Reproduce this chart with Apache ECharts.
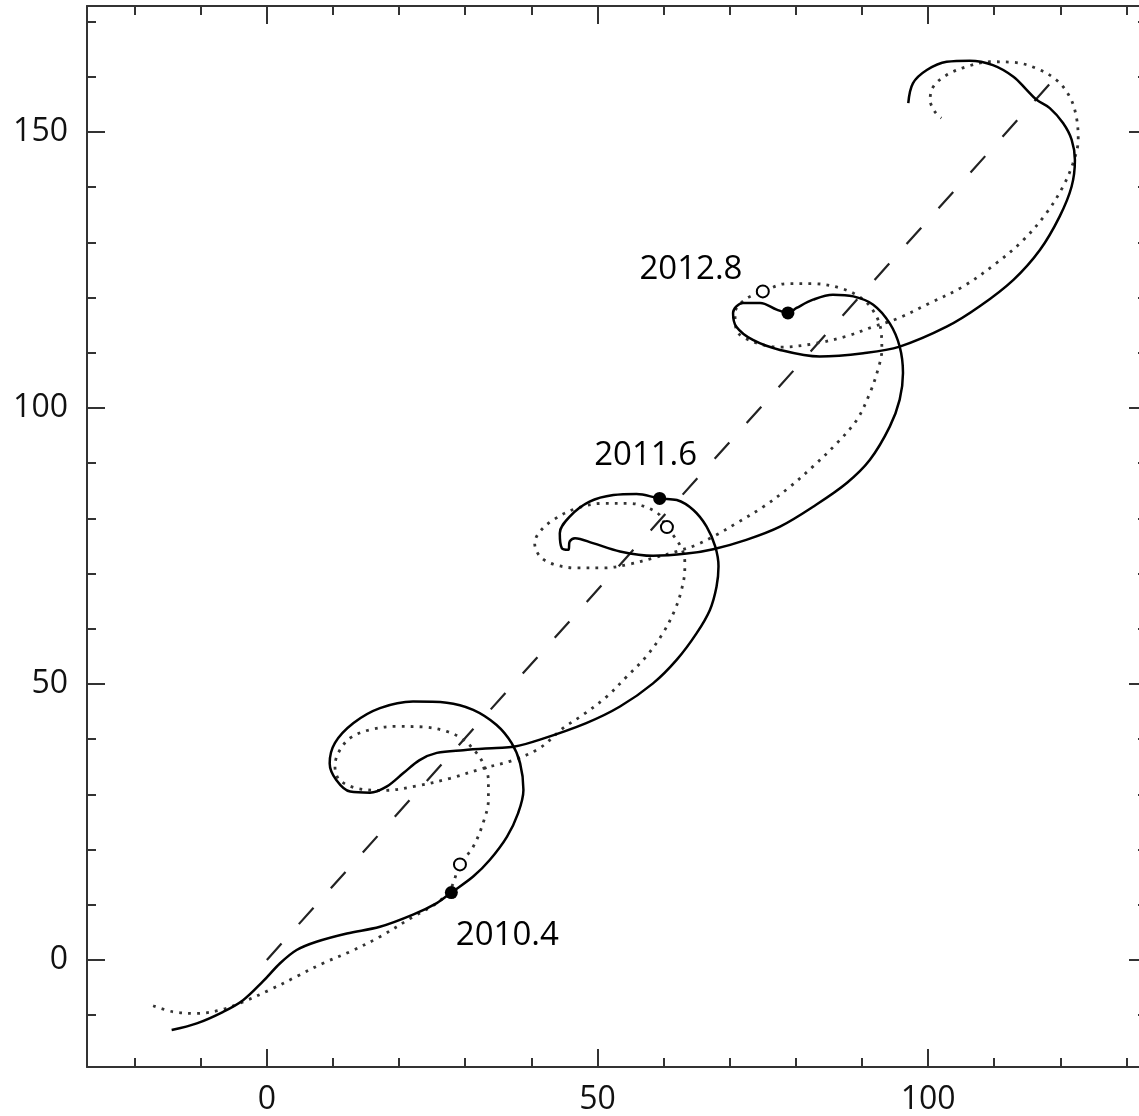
<!DOCTYPE html>
<html>
<head>
<meta charset="utf-8">
<script src="https://cdn.jsdelivr.net/npm/echarts@6/dist/echarts.min.js"></script>
<style>
html, body { margin: 0; padding: 0; background: #fff; }
#main { width: 1139px; height: 1116px; }
</style>
</head>
<body>
<div id="main"></div>
<script>
// 轴范围和刻度
var xMin = -27.2, xMax = 133.1;
var yMin = -19.4, yMax = 172.8;
var xMajor = [0, 50, 100];
var xMinor = [-20, -10, 0, 10, 20, 30, 40, 50, 60, 70, 80, 90, 100, 110, 120, 130];
var yMajor = [0, 50, 100, 150];
var yMinor = [-10, 0, 10, 20, 30, 40, 50, 60, 70, 80, 90, 100, 110, 120, 130, 140, 150, 160, 170];

// 虚线（趋势）
var trendLine = [[0, 0], [118.7, 159.1]];

// 实线轨迹
var solidCurve = [
    [-14.4,-12.7],[-10.6,-11.5],[-6.6,-9.4],[-3.6,-7.3],[-0.6,-3.9],[2.0,-0.6],[4.5,1.8],[7.5,3.3],
    [12.1,4.8],[17.1,6.0],[22.1,8.2],[25.7,10.3],[27.9,12.2],[31.2,15.1],[33.7,18.1],[36.3,22.3],
    [38.0,26.6],[38.8,30.8],[38.3,35.6],[37.0,39.3],[34.7,42.6],[31.2,45.3],[27.2,46.6],[22.1,46.8],
    [17.1,45.6],[13.1,42.9],[10.3,39.3],[9.5,35.6],[10.5,32.6],[12.6,30.5],[15.6,30.3],[18.1,31.4],
    [20.6,33.8],[23.1,36.2],[25.7,37.5],[29.7,38.0],[34.7,38.4],[37.3,38.6],[41.3,39.9],[48.3,42.9],
    [53.4,45.9],[58.4,50.1],[62.0,54.4],[65.0,59.2],[67.0,63.4],[68.0,67.6],[68.3,71.3],[67.8,74.9],
    [66.5,78.5],[64.5,81.5],[62.0,83.3],[59.4,83.6],[55.9,84.4],[52.4,84.2],[48.8,83.0],[45.8,80.3],
    [44.3,77.3],[44.6,74.6],[45.6,74.3],[45.8,75.8],[46.6,76.4],[49.3,75.5],[53.4,74.0],[58.4,73.2],
    [63.5,73.6],[67.5,74.4],[72.5,76.1],[77.6,78.5],[82.6,82.1],[87.7,86.4],[91.2,90.6],[94.2,96.6],
    [95.7,101.5],[96.2,106.3],[95.7,111.1],[94.2,115.3],[91.7,118.7],[88.7,120.2],[85.6,120.5],[82.6,119.6],
    [80.1,118.1],[78.8,117.2],[77.1,117.8],[74.6,119.0],[72.0,119.0],[70.5,117.2],[71.0,114.7],[73.5,112.3],
    [77.6,110.5],[83.6,109.3],[90.2,109.9],[95.7,111.1],[102.8,114.7],[107.8,118.4],[112.9,123.2],[116.9,128.6],
    [119.9,134.7],[121.7,140.1],[122.2,144.9],[121.7,148.6],[120.4,151.6],[118.4,154.3],[116.4,155.8],[114.9,157.6],
    [112.9,160.0],[109.8,162.1],[106.3,162.9],[102.8,162.7],[99.8,161.2],[97.7,158.8],[97.0,155.2]
];

// 点线轨迹
var dottedCurve = [
    [-17.2,-8.3],[-14.2,-9.4],[-10.6,-9.7],[-7.1,-9.1],[-3.6,-7.6],[0.5,-5.4],[4.5,-3.0],[8.5,-0.6],
    [12.6,1.5],[17.1,4.2],[22.1,7.8],[25.7,10.3],[27.7,12.7],[29.2,17.2],[31.2,20.5],[32.7,24.8],
    [33.5,29.0],[33.5,32.6],[32.7,35.6],[31.7,37.5],[29.7,39.9],[27.2,41.4],[23.6,42.2],[19.6,42.3],
    [15.6,41.7],[12.6,40.2],[10.8,37.5],[10.3,35.0],[11.0,32.6],[13.6,31.1],[17.6,30.7],[22.6,31.5],
    [27.7,32.9],[32.7,34.7],[37.3,36.2],[41.3,38.4],[44.8,42.0],[47.8,44.4],[51.4,47.7],[54.4,51.3],
    [57.4,55.0],[59.9,59.2],[61.7,63.4],[62.7,67.0],[63.2,70.7],[63.2,72.2],[62.7,74.6],[61.4,77.0],
    [60.4,78.4],[59.4,80.6],[57.4,82.0],[54.9,82.7],[50.9,82.7],[46.8,81.8],[43.3,79.7],[41.3,77.6],
    [40.5,75.5],[41.3,73.1],[43.3,71.7],[46.8,71.0],[50.9,71.0],[54.9,71.7],[58.4,72.8],[62.0,74.0],
    [65.0,75.2],[68.0,77.0],[71.0,79.1],[75.1,82.1],[79.1,85.7],[82.6,89.4],[86.2,93.6],[89.2,97.8],
    [91.2,102.7],[92.4,106.9],[93.0,110.5],[92.9,113.8],[91.9,117.2],[89.9,119.9],[86.7,121.7],[82.6,122.5],
    [78.6,122.5],[75.1,121.1],[72.3,119.6],[70.8,117.2],[71.0,114.1],[73.5,112.0],[77.6,111.0],[82.6,111.6],
    [87.7,113.0],[91.7,114.7],[95.2,116.1],[100.3,119.0],[105.3,122.0],[110.3,126.2],[114.4,130.4],[117.9,135.3],
    [120.4,140.1],[121.9,144.3],[122.7,148.6],[122.4,152.8],[121.4,156.4],[119.4,159.4],[116.4,161.5],[112.9,162.6],
    [109.3,162.7],[105.8,161.8],[102.8,160.3],[100.8,158.2],[100.3,155.8],[101.0,153.7],[102.0,152.5]
];

// 标记点
var epochs = ['2010.4', '2011.6', '2012.8'];
var filledDots = [[27.9, 12.2], [59.4, 83.6], [78.8, 117.2]];
var openDots = [[29.2, 17.3], [60.5, 78.4], [75.0, 121.1]];

var labelFont = 'Open Sans';
var labelOffsets = [[56, 43], [-14, -43], [-97, -43]];

function xAxisOf(pos, ticks, len, line, label) {
    return {
        type: 'value', position: pos, min: xMin, max: xMax,
        axisLine: { show: line, onZero: false, lineStyle: { color: '#333', width: 2 } },
        axisTick: { show: true, inside: true, length: len, customValues: ticks, lineStyle: { color: '#333', width: 2 } },
        axisLabel: { show: label, customValues: xMajor, margin: 17, fontSize: 32, fontFamily: labelFont, color: '#111' },
        splitLine: { show: false }
    };
}
function yAxisOf(pos, ticks, len, line, label) {
    return {
        type: 'value', position: pos, min: yMin, max: yMax,
        axisLine: { show: line, onZero: false, lineStyle: { color: '#333', width: 2 } },
        axisTick: { show: true, inside: true, length: len, customValues: ticks, lineStyle: { color: '#333', width: 2 } },
        axisLabel: { show: label, customValues: yMajor, margin: 19, fontSize: 32, fontFamily: labelFont, color: '#111' },
        splitLine: { show: false }
    };
}

var chart = echarts.init(document.getElementById('main'), null, { renderer: 'canvas' });

var option = {
    animation: false,
    backgroundColor: '#fff',
    grid: { left: 87, top: 6, width: 1060, height: 1061, outerBoundsMode: 'none', containLabel: false },
    xAxis: [
        xAxisOf('bottom', xMajor, 18, true, true),
        xAxisOf('bottom', xMinor, 9, false, false),
        xAxisOf('top', xMajor, 18, true, false),
        xAxisOf('top', xMinor, 9, false, false)
    ],
    yAxis: [
        yAxisOf('left', yMajor, 18, true, true),
        yAxisOf('left', yMinor, 9, false, false),
        yAxisOf('right', yMajor, 18, true, false),
        yAxisOf('right', yMinor, 9, false, false)
    ],
    series: [
        {
            type: 'line', data: trendLine, showSymbol: false, silent: true,
            lineStyle: { color: '#222', width: 2.2, type: [22, 26] }
        },
        {
            type: 'line', data: dottedCurve, showSymbol: false, smooth: 0.35, silent: true,
            lineStyle: { color: '#333', width: 2.8, type: [2.8, 6.2] }
        },
        {
            type: 'line', data: solidCurve, showSymbol: false, smooth: 0.35, silent: true,
            lineStyle: { color: '#000', width: 2.5 }
        },
        {
            type: 'scatter', data: openDots, symbol: 'circle', symbolSize: 12, z: 5,
            itemStyle: { color: '#fff', borderColor: '#000', borderWidth: 2, opacity: 1 }
        },
        {
            type: 'scatter', symbol: 'circle', symbolSize: 13, z: 6,
            itemStyle: { color: '#000', opacity: 1 },
            data: filledDots.map(function (p, i) {
                return {
                    value: p,
                    label: {
                        show: true, formatter: epochs[i], position: 'inside', offset: labelOffsets[i],
                        fontSize: 33, fontFamily: labelFont, color: '#000', opacity: 1
                    }
                };
            })
        }
    ]
};

chart.setOption(option);
</script>
</body>
</html>
